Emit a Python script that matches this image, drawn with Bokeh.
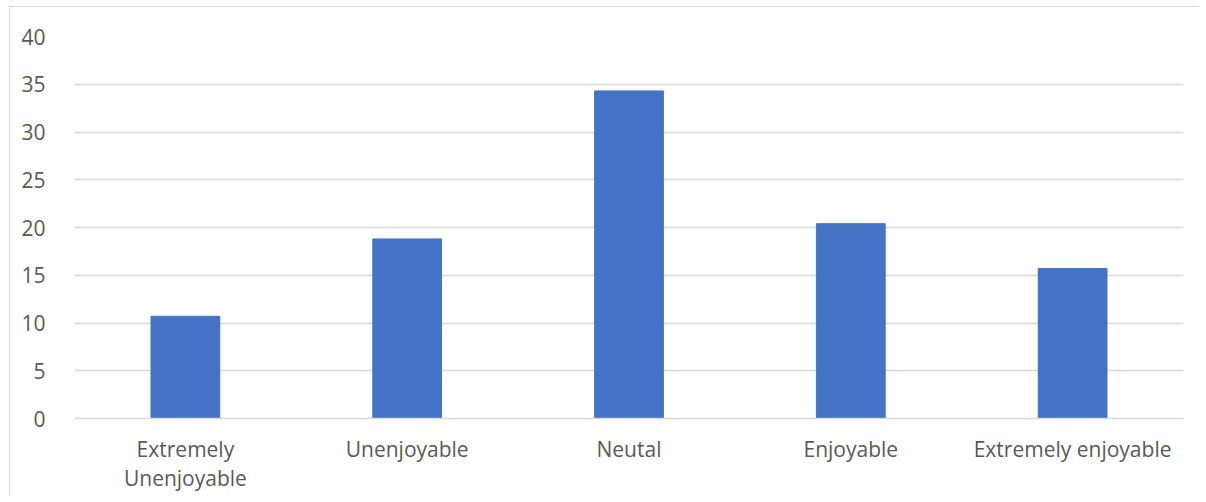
from bokeh.plotting import figure
from bokeh.models import ColumnDataSource, Range1d, FixedTicker, SingleIntervalTicker
from bokeh.embed import file_html
from bokeh.resources import INLINE

categories = ["Extremely Unenjoyable", "Unenjoyable", "Neutal", "Enjoyable", "Extremely enjoyable"]
values = [10.7, 18.8, 34.3, 20.4, 15.7]
tick_labels = ["Extremely\nUnenjoyable", "Unenjoyable", "Neutal", "Enjoyable", "Extremely enjoyable"]

FONT = "Open Sans"
TXT = "#595959"
GRID = "#d9d9d9"

xs = list(range(len(categories)))
src = ColumnDataSource(dict(x=xs, cat=categories, val=values))

p = figure(
    x_range=Range1d(-0.5, len(categories) - 0.5),
    y_range=Range1d(0, 40),
    width=1190, height=490,
    output_backend="svg", toolbar_location=None,
    min_border_left=64, min_border_right=17, min_border_top=29, min_border_bottom=79,
)
p.styles = {"border-top": "1px solid #d9d9d9", "border-left": "1px solid #d9d9d9",
            "margin-left": "9px", "margin-top": "6px"}
p.outline_line_color = None

p.vbar(x="x", top="val", width=0.31, source=src, fill_color="#4472C4", line_color="#4472C4")

p.xaxis.ticker = FixedTicker(ticks=xs)
p.xaxis.major_label_overrides = {i: t for i, t in zip(xs, tick_labels)}
p.xaxis.axis_line_color = GRID
p.xaxis.axis_line_width = 1.5
p.xaxis.major_tick_line_color = None
p.xaxis.minor_tick_line_color = None
p.xaxis.major_label_text_font = FONT
p.xaxis.major_label_text_font_size = "21px"
p.xaxis.major_label_text_color = TXT
p.xaxis.major_label_standoff = 10
p.xaxis.major_label_text_line_height = 1.07
p.xgrid.grid_line_color = None

p.yaxis.ticker = SingleIntervalTicker(interval=5)
p.yaxis.axis_line_color = None
p.yaxis.major_tick_line_color = None
p.yaxis.minor_tick_line_color = None
p.yaxis.major_label_text_font = FONT
p.yaxis.major_label_text_font_size = "21px"
p.yaxis.major_label_text_color = TXT
p.yaxis.major_label_standoff = 23
p.ygrid.ticker = SingleIntervalTicker(interval=5)
p.ygrid.grid_line_color = GRID
p.ygrid.grid_line_width = 1.5

open("out.html", "w").write(file_html(p, INLINE))
